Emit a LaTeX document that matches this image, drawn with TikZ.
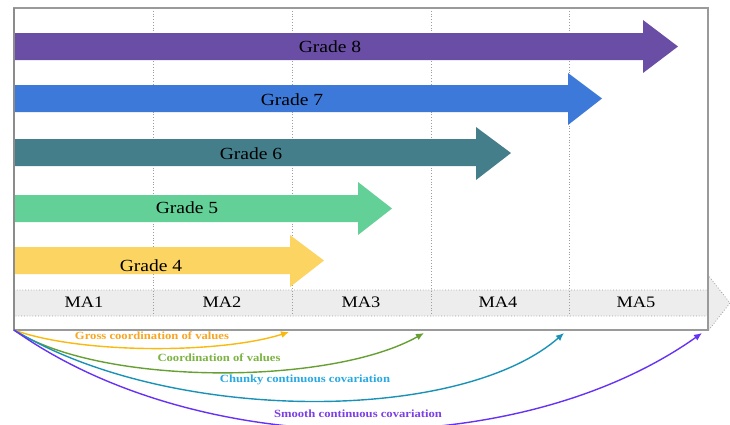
\documentclass[tikz,border=0pt]{standalone}
\usepackage{fontspec}
\setmainfont{Liberation Serif}[FakeStretch=1.15]
\usetikzlibrary{arrows.meta}
\definecolor{gEight}{HTML}{6A4EA5}
\definecolor{gSeven}{HTML}{3C79D8}
\definecolor{gSix}{HTML}{437E8A}
\definecolor{gFive}{HTML}{62D097}
\definecolor{gFour}{HTML}{FCD462}
\definecolor{bandfill}{HTML}{EDEDED}
\definecolor{gridc}{HTML}{9E9E9E}
\definecolor{frameC}{HTML}{9A9A9A}
\definecolor{cGross}{HTML}{F9B90F}
\definecolor{tGross}{HTML}{F6A623}
\definecolor{cCoord}{HTML}{66A032}
\definecolor{tCoord}{HTML}{7CB342}
\definecolor{cChunky}{HTML}{1A92B8}
\definecolor{tChunky}{HTML}{29A9E1}
\definecolor{cSmooth}{HTML}{6633F5}
\definecolor{tSmooth}{HTML}{7B3FE4}
\begin{document}
\begin{tikzpicture}[x=1pt,y=-1pt,
  gridline/.style={gridc, dotted, line width=0.8pt},
  gradelabel/.style={inner sep=0pt, font=\fontsize{17}{17}\selectfont, text=black},
  malabel/.style={inner sep=0pt, font=\fontsize{16}{16}\selectfont, text=black},
  curvelabel/.style={inner sep=0pt, font=\fontsize{11}{11}\selectfont\bfseries},
  curve/.style={line width=1.4pt, -{Latex[length=8pt,width=7pt]}}]
\useasboundingbox (0,0) rectangle (730,424);
% MA band (arrow shaped)
\draw[gridline, fill=bandfill] (14,290) -- (708,290) -- (708,275) -- (730,303) -- (708,331) -- (708,316) -- (14,316) -- cycle;
% dotted column dividers
\foreach \xx in {153,292,431,569}
  \draw[gridline] (\xx,8) -- (\xx,316);
% grade arrows
\fill[gEight] (14,33) -- (643,33) -- (643,20) -- (678,46.5) -- (643,73) -- (643,60) -- (14,60) -- cycle;
\fill[gSeven] (14,85) -- (568,85) -- (568,73) -- (602,98.5) -- (568,125) -- (568,112) -- (14,112) -- cycle;
\fill[gSix] (14,139) -- (476,139) -- (476,127) -- (511,153) -- (476,180) -- (476,166) -- (14,166) -- cycle;
\fill[gFive] (13,195) -- (358,195) -- (358,182) -- (392,208.5) -- (358,235) -- (358,222) -- (13,222) -- cycle;
\fill[gFour] (13,247) -- (290,247) -- (290,235) -- (324,260.5) -- (290,287) -- (290,274) -- (13,274) -- cycle;
\node[gradelabel] (l8) at (330,47) {Grade 8};
\node[gradelabel] (l7) at (292,100) {Grade 7};
\node[gradelabel] (l6) at (251,154) {Grade 6};
\node[gradelabel] (l5) at (187,208) {Grade 5};
\node[gradelabel] (l4) at (151,266) {Grade 4};
% MA labels
\node[malabel] (ma1) at (84,302) {MA1};
\node[malabel] (ma2) at (222,302) {MA2};
\node[malabel] (ma3) at (361,302) {MA3};
\node[malabel] (ma4) at (498,302) {MA4};
\node[malabel] (ma5) at (636,302) {MA5};
% frame
\draw[frameC, line width=1.4pt] (14,8) rectangle (708,330);
\draw[black!45, line width=1.4pt] (14,8) -- (14,330);
% curves
\coordinate (O) at (14,330);
\coordinate (eG) at (289,332);
\coordinate (eC) at (424,333);
\coordinate (eK) at (564,333);
\coordinate (eS) at (702,333);
\draw[curve, cGross] (O) .. controls (80,354) and (220,354) .. (eG);
\draw[curve, cCoord] (O) .. controls (100,386) and (330,386) .. (eC);
\draw[curve, cChunky] (O) .. controls (170,424) and (460,424) .. (eK);
\draw[curve, cSmooth] (O) .. controls (200,462) and (520,462) .. (eS);
\node[curvelabel, text=tGross] (tg) at (152,336) {Gross coordination of values};
\node[curvelabel, text=tCoord] (tc) at (219,358) {Coordination of values};
\node[curvelabel, text=tChunky] (tk) at (305,380) {Chunky continuous covariation};
\node[curvelabel, text=tSmooth] (ts) at (358,414) {Smooth continuous covariation};
\end{tikzpicture}
\end{document}
